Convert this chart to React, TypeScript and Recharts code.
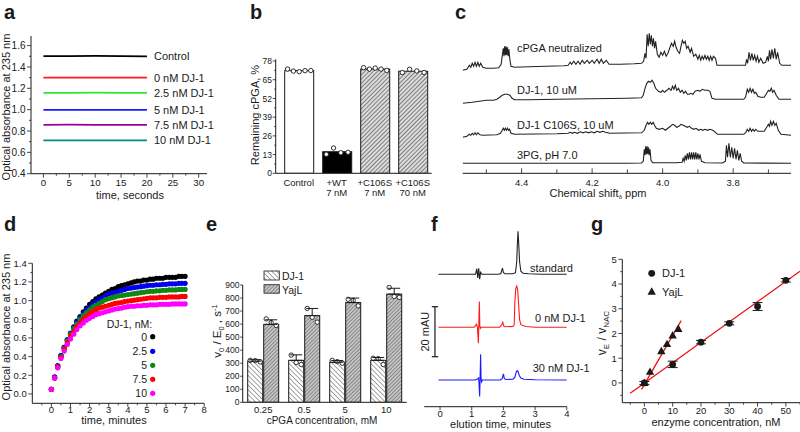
import React from "react";
import {
  Bar,
  BarChart,
  ComposedChart,
  ErrorBar,
  LabelList,
  Line,
  ReferenceLine,
  Scatter,
  XAxis,
  YAxis,
} from "recharts";

const FONT = "Arial, 'Liberation Sans', Helvetica, sans-serif";
const NARROW = "'Liberation Sans Narrow', 'Arial Narrow', Arial, 'Liberation Sans', sans-serif";
const INK = "#1a1a1a";

// a: absorbance at 235 nm over 20 s
const aTime = [0, 5, 10, 15, 20];
const aNames = ["Control", "0 nM DJ-1", "2.5 nM DJ-1", "5 nM DJ-1", "7.5 nM DJ-1", "10 nM DJ-1"];
const aControl = [1.502, 1.501, 1.503, 1.502, 1.5];
const aDj0 = [1.3, 1.3, 1.3, 1.3, 1.3];
const aDj25 = [1.158, 1.158, 1.16, 1.158, 1.158];
const aDj5 = [0.998, 0.998, 0.998, 0.998, 0.998];
const aDj75 = [0.857, 0.86, 0.858, 0.857, 0.857];
const aDj10 = [0.713, 0.713, 0.713, 0.713, 0.713];
const aColors = ["#000000", "#ff1a1a", "#2ee62e", "#1a1aff", "#990099", "#008b8b"];

// b: remaining cPGA
const bCats = ["Control", "+WT\n7 nM", "+C106S\n7 nM", "+C106S\n70 nM"];
const bMeans = [71.3, 15.0, 72.4, 70.9];
const bReps = [
  [72.4, 71.0, 70.6, 71.3, 71.4],
  [13.2, 17.6, 14.3, 14.6],
  [73.4, 72.4, 73.1, 72.4, 71.5],
  [70.0, 72.3, 71.1, 70.0],
];
const bFills = ["#ffffff", "#000000", "url(#hatchB)", "url(#hatchB)"];

// c: 1H NMR spectra, [ppm, intensity]
const cLabels = ["cPGA neutralized", "DJ-1, 10 uM", "DJ-1 C106S, 10 uM", "3PG, pH 7.0"];
const cOffsets = [105, 73, 38, 10];
const cNeutralized = [
  [4.567, -2], [4.555, -1], [4.548, 3], [4.544, 1], [4.54, 5], [4.536, 2], [4.532, 6], [4.528, 2], [4.524, 6],
  [4.52, 2], [4.516, 5], [4.51, 1], [4.5, 0], [4.48, 0], [4.465, 0.5], [4.458, 4], [4.455, 12], [4.452, 20],
  [4.45, 12], [4.448, 22], [4.446, 13], [4.444, 22], [4.442, 13], [4.44, 21], [4.438, 12], [4.436, 19],
  [4.433, 8], [4.43, 2], [4.42, 1], [4.38, 1.5], [4.33, 2], [4.28, 2.5], [4.268, 3], [4.262, 6], [4.258, 4],
  [4.252, 7], [4.246, 4], [4.24, 7], [4.234, 4], [4.228, 8], [4.222, 5], [4.214, 8], [4.208, 5], [4.2, 8],
  [4.194, 5], [4.186, 9], [4.18, 5], [4.174, 9], [4.168, 5], [4.16, 8], [4.152, 4], [4.12, 4], [4.08, 4.5],
  [4.06, 5], [4.054, 7], [4.05, 15], [4.047, 10], [4.044, 34], [4.041, 22], [4.038, 35], [4.035, 24],
  [4.032, 33], [4.029, 22], [4.026, 30], [4.023, 20], [4.02, 27], [4.015, 14], [4.01, 11], [4.005, 16],
  [4.0, 13], [3.995, 17], [3.99, 12], [3.985, 15], [3.98, 20], [3.975, 25], [3.97, 22], [3.966, 27],
  [3.962, 21], [3.957, 17], [3.952, 15], [3.948, 22], [3.944, 28], [3.94, 25], [3.936, 27], [3.932, 20],
  [3.928, 22], [3.922, 16], [3.918, 20], [3.912, 12], [3.906, 14], [3.9, 9], [3.896, 13], [3.892, 8],
  [3.888, 12], [3.884, 9], [3.88, 13], [3.876, 9], [3.872, 12], [3.868, 8], [3.864, 12], [3.86, 8],
  [3.856, 12], [3.85, 10], [3.846, 3], [3.84, 3], [3.8, 3], [3.765, 3], [3.762, 9], [3.759, 5], [3.755, 16],
  [3.751, 8], [3.747, 15], [3.743, 8], [3.739, 13], [3.735, 7], [3.731, 12], [3.727, 6], [3.722, 10],
  [3.715, 5], [3.708, 6], [3.703, 12], [3.7, 7], [3.697, 18], [3.694, 9], [3.69, 19], [3.686, 10],
  [3.682, 20], [3.678, 9], [3.674, 16], [3.668, 5], [3.662, 3], [3.636, 3],
];
const cDj1 = [
  [4.567, -3], [4.54, -2], [4.52, -1], [4.5, 0], [4.48, 0], [4.47, 1], [4.462, 3], [4.455, 5], [4.448, 6],
  [4.44, 6], [4.433, 5], [4.427, 2], [4.42, 0.5], [4.38, 0.5], [4.3, 1], [4.2, 1.5], [4.1, 2], [4.06, 2.5],
  [4.055, 5], [4.05, 12], [4.045, 17], [4.04, 19], [4.035, 18], [4.03, 20], [4.025, 17], [4.02, 12],
  [4.012, 9], [4.005, 8], [4.0, 10], [3.995, 8], [3.988, 10], [3.982, 12], [3.976, 10], [3.972, 14],
  [3.968, 11], [3.964, 15], [3.96, 10], [3.955, 12], [3.95, 8], [3.945, 10], [3.94, 7], [3.935, 9],
  [3.93, 6], [3.925, 6], [3.92, 7], [3.914, 6], [3.908, 9], [3.9, 10], [3.894, 9], [3.888, 11], [3.88, 10],
  [3.872, 10], [3.866, 9], [3.86, 2], [3.85, 1], [3.8, 1], [3.77, 1], [3.765, 3], [3.76, 11], [3.756, 8],
  [3.752, 12], [3.748, 8], [3.744, 11], [3.74, 7], [3.736, 8], [3.73, 4], [3.722, 3], [3.712, 3],
  [3.705, 7], [3.7, 10], [3.696, 9], [3.692, 12], [3.688, 8], [3.684, 10], [3.678, 5], [3.67, 1], [3.636, 1],
];
const cC106S = [
  [4.567, -2], [4.555, -1], [4.548, 1], [4.544, 0], [4.54, 2], [4.536, 0.5], [4.532, 2.5], [4.528, 0.5],
  [4.524, 2.5], [4.518, 0.5], [4.51, 0], [4.47, 0.5], [4.46, 2], [4.455, 5], [4.452, 7], [4.449, 5],
  [4.446, 7], [4.443, 5], [4.44, 7], [4.437, 5], [4.434, 6], [4.43, 2], [4.42, 1], [4.3, 1.5], [4.268, 2],
  [4.262, 3], [4.256, 2], [4.25, 3], [4.242, 2], [4.234, 3.5], [4.226, 2.5], [4.218, 3.5], [4.21, 2.5],
  [4.202, 3.5], [4.194, 2.5], [4.186, 4], [4.178, 3], [4.17, 4], [4.162, 3], [4.15, 2], [4.06, 2.5],
  [4.052, 5], [4.047, 10], [4.043, 13], [4.039, 11], [4.035, 13], [4.031, 11], [4.027, 13], [4.023, 10],
  [4.018, 7], [4.01, 6], [4.0, 7], [3.992, 5], [3.985, 7], [3.978, 9], [3.972, 11], [3.966, 10], [3.96, 8],
  [3.954, 9], [3.948, 11], [3.942, 10], [3.936, 9], [3.93, 8], [3.924, 9], [3.918, 7], [3.912, 6],
  [3.905, 7], [3.898, 5], [3.892, 6], [3.886, 5], [3.88, 6], [3.872, 5], [3.866, 6], [3.858, 5], [3.85, 3],
  [3.845, 1], [3.8, 1], [3.77, 1], [3.764, 3], [3.76, 6], [3.756, 4], [3.752, 7], [3.748, 4], [3.744, 6],
  [3.74, 4], [3.736, 6], [3.73, 4], [3.722, 4], [3.712, 4], [3.705, 8], [3.7, 11], [3.697, 9], [3.694, 14],
  [3.69, 10], [3.686, 14], [3.682, 10], [3.678, 12], [3.672, 5], [3.664, 1], [3.636, 0],
];
const c3PG = [
  [4.567, 0], [4.1, 0], [4.06, 0.3], [4.055, 2], [4.052, 14], [4.05, 8], [4.048, 17], [4.046, 9], [4.044, 17],
  [4.042, 9], [4.04, 16], [4.038, 8], [4.036, 14], [4.033, 3], [4.028, 0.5], [3.96, 0.5], [3.945, 1],
  [3.942, 5], [3.939, 2], [3.936, 8], [3.933, 3], [3.93, 10], [3.927, 4], [3.924, 11], [3.921, 4],
  [3.918, 11], [3.915, 4], [3.912, 11], [3.909, 4], [3.906, 11], [3.903, 4], [3.9, 10], [3.897, 4],
  [3.894, 9], [3.89, 2], [3.88, 0.5], [3.83, 0.3], [3.822, 2], [3.819, 18], [3.816, 6], [3.812, 20],
  [3.808, 6], [3.804, 16], [3.8, 5], [3.796, 15], [3.792, 4], [3.788, 13], [3.784, 3], [3.78, 10],
  [3.776, 2], [3.77, 0.3], [3.636, 0],
];
const cTraces = [cNeutralized, cDj1, cC106S, c3PG];

// d: progress curves
const dTime = [
  0, 0.17, 0.33, 0.5, 0.67, 0.83, 1, 1.17, 1.33, 1.5, 1.67, 1.83, 2, 2.17, 2.33, 2.5, 2.67, 2.83, 3, 3.17,
  3.33, 3.5, 3.67, 3.83, 4, 4.17, 4.33, 4.5, 4.67, 4.83, 5, 5.17, 5.33, 5.5, 5.67, 5.83, 6, 6.17, 6.33,
  6.5, 6.67, 6.83, 7,
];
const dNames = ["0", "2.5", "5", "7.5", "10"];
const dDj0 = [
  0.05, 0.18, 0.3, 0.41, 0.5, 0.58, 0.65, 0.72, 0.78, 0.83, 0.88, 0.92, 0.96, 0.99, 1.02, 1.04, 1.06, 1.08,
  1.1, 1.12, 1.13, 1.15, 1.16, 1.17, 1.18, 1.19, 1.2, 1.21, 1.21, 1.22, 1.22, 1.23, 1.23, 1.24, 1.24, 1.24,
  1.25, 1.25, 1.25, 1.25, 1.26, 1.26, 1.26,
];
const dDj25 = [
  0.05, 0.18, 0.3, 0.41, 0.5, 0.58, 0.65, 0.71, 0.77, 0.82, 0.86, 0.9, 0.93, 0.96, 0.99, 1.01, 1.03, 1.05,
  1.07, 1.08, 1.09, 1.1, 1.11, 1.12, 1.13, 1.135, 1.14, 1.145, 1.15, 1.155, 1.16, 1.165, 1.165, 1.17, 1.17,
  1.175, 1.175, 1.18, 1.18, 1.18, 1.185, 1.185, 1.185,
];
const dDj5 = [
  0.05, 0.17, 0.29, 0.4, 0.49, 0.57, 0.64, 0.7, 0.75, 0.8, 0.84, 0.87, 0.9, 0.93, 0.95, 0.97, 0.99, 1.01,
  1.02, 1.03, 1.04, 1.05, 1.055, 1.06, 1.065, 1.07, 1.075, 1.08, 1.085, 1.09, 1.095, 1.1, 1.1, 1.105, 1.105,
  1.11, 1.11, 1.115, 1.115, 1.115, 1.12, 1.12, 1.12,
];
const dDj75 = [
  0.05, 0.17, 0.29, 0.39, 0.48, 0.55, 0.62, 0.67, 0.72, 0.76, 0.8, 0.83, 0.86, 0.88, 0.9, 0.92, 0.93, 0.94,
  0.95, 0.96, 0.97, 0.975, 0.98, 0.99, 0.995, 1.0, 1.005, 1.01, 1.015, 1.02, 1.025, 1.03, 1.03, 1.03, 1.035,
  1.035, 1.035, 1.04, 1.04, 1.04, 1.04, 1.045, 1.045,
];
const dDj10 = [
  0.05, 0.17, 0.28, 0.38, 0.46, 0.53, 0.59, 0.64, 0.69, 0.73, 0.76, 0.79, 0.81, 0.83, 0.85, 0.86, 0.87, 0.88,
  0.89, 0.9, 0.91, 0.915, 0.92, 0.93, 0.935, 0.94, 0.94, 0.945, 0.945, 0.95, 0.95, 0.955, 0.955, 0.955, 0.96,
  0.96, 0.96, 0.96, 0.965, 0.965, 0.965, 0.965, 0.965,
];
const dColors = ["#000000", "#0000ee", "#118811", "#ff0000", "#ff00ff"];

// e: v0/E0 vs cPGA concentration
const eConc = ["0.25", "0.5", "5", "10"];
const eDj1 = [315, 322, 307, 322];
const eDj1Err = [12, 42, 14, 22];
const eDj1Reps = [[322, 320, 310], [362, 305, 290], [322, 312, 300], [338, 335, 290]];
const eYajL = [598, 665, 765, 830];
const eYajLErr = [35, 55, 35, 45];
const eYajLReps = [[640, 612, 590], [720, 652, 615], [790, 782, 740], [882, 812, 805]];

// f: HPLC traces, mAU
const fLabels = ["standard", "0 nM DJ-1", "30 nM DJ-1"];
const fColors = ["#222222", "#ff1a1a", "#1a1aff"];
const fOffsets = [53, 31.8, 10.7];
const fStandard = [
  [-0.05, 0], [1.0, 0], [1.12, 0], [1.16, 2.2], [1.19, -1.5], [1.22, 2.4], [1.25, -2], [1.28, 0.8], [1.32, 0],
  [1.85, 0], [1.92, 0.3], [1.97, 2.4], [2.0, 0.6], [2.05, 0.2], [2.3, 0.2], [2.38, 0.6], [2.42, 5],
  [2.44, 12], [2.46, 17.2], [2.48, 13], [2.51, 5], [2.55, 1.2], [2.62, 0.4], [2.8, 0.2], [3.2, 0], [4.0, 0],
];
const fDj0 = [
  [-0.05, 0], [1.08, 0], [1.15, 1.2], [1.18, 0], [1.21, -6.4], [1.225, 2], [1.24, 10.3], [1.255, 0.5],
  [1.27, -0.5], [1.3, 0], [1.88, 0], [1.94, 0.8], [1.98, 2], [2.01, 0.5], [2.05, 0.2], [2.3, 0.3],
  [2.34, 1], [2.36, 10], [2.39, 15.5], [2.42, 16.4], [2.45, 15], [2.48, 9], [2.51, 3], [2.55, 1],
  [2.7, 0.3], [3.0, 0], [4.0, 0],
];
const fDj30 = [
  [-0.05, 0], [1.12, 0], [1.18, 0.4], [1.22, 0.8], [1.25, -6.6], [1.265, 1], [1.28, 10.3], [1.295, 0.5],
  [1.31, -0.8], [1.34, 0], [1.9, 0], [1.96, 0.5], [2.0, 2.4], [2.03, 0.5], [2.08, 0.2], [2.3, 0.3],
  [2.36, 1], [2.4, 3], [2.43, 3.7], [2.46, 3.4], [2.5, 1.8], [2.55, 0.8], [2.65, 0.3], [3.0, 0.1], [4.0, 0],
];
const fTraces = [fStandard, fDj0, fDj30];

// g: relative rate vs enzyme concentration
const gDjConc = [0, 10, 20, 30, 40, 50];
const gDjRatio = [0.0, 0.75, 1.65, 2.41, 3.09, 4.15];
const gDjErr = [0.06, 0.13, 0.07, 0.06, 0.16, 0.07];
const gYajConc = [0, 2, 6, 8, 10, 12];
const gYajRatio = [0.0, 0.45, 1.28, 1.57, 1.92, 2.18];
const gDjFit = [[-5, -0.42], [55, 4.52]];
const gYajFit = [[-1, -0.26], [13, 2.52]];

// ---------- helpers
const range = (a: number, b: number, s: number) => {
  const out: number[] = [];
  for (let i = 0; a + i * s <= b + 1e-9; i++) out.push(+(a + i * s).toFixed(6));
  return out;
};
const isOn = (v: number, step: number) => Math.abs(v / step - Math.round(v / step)) < 1e-6;

function frame(left: number, top: number, width: number, height: number, plot: number[]) {
  const [x0, y0, x1, y1] = plot;
  return {
    style: { position: "absolute" as const, left, top },
    width,
    height,
    margin: { top: y0 - top, right: left + width - x1, bottom: 0, left: 0 },
    yw: x0 - left,
    xh: top + height - y1,
  };
}

function yTick(step: number, fmt: (v: number) => string, size = 10, len = 4, minor = 2, gap = 1.5, family = FONT) {
  return (p: any) => {
    const v = p.payload.value;
    const major = isOn(v, step);
    return (
      <g>
        <line x1={p.x - (major ? len : minor)} x2={p.x} y1={p.y} y2={p.y} stroke={INK} strokeWidth={0.8} />
        {major ? (
          <text x={p.x - len - gap} y={p.y + size * 0.36} textAnchor="end" fontSize={size} fontFamily={family} fill={INK}>
            {fmt(v)}
          </text>
        ) : null}
      </g>
    );
  };
}

function xTick(step: number, fmt: (v: number) => string, off: number, size = 10, len = 4, minor = 2, up = false) {
  return (p: any) => {
    const v = p.payload.value;
    const major = isOn(v, step);
    const l = major ? len : minor;
    return (
      <g>
        <line x1={p.x} x2={p.x} y1={p.y} y2={up ? p.y - l : p.y + l} stroke={INK} strokeWidth={0.8} />
        {major ? (
          <text x={p.x} y={p.y + off} textAnchor="middle" fontSize={size} fontFamily={FONT} fill={INK}>
            {fmt(v)}
          </text>
        ) : null}
      </g>
    );
  };
}

function catTick(off: number, size = 9.5, lead = 10) {
  return (p: any) => {
    const lines = String(p.payload.value).split("\n");
    return (
      <text x={p.x} y={p.y + off} textAnchor="middle" fontSize={size} fontFamily={FONT} fill={INK}>
        {lines.map((l, i) => (
          <tspan key={i} x={p.x} dy={i ? lead : 0}>
            {l}
          </tspan>
        ))}
      </text>
    );
  };
}

function repBar(fills: string[] | string, valueKey: string, repsKey: string) {
  return (p: any) => {
    const { x, y, width, height, payload, index } = p;
    const fill = Array.isArray(fills) ? fills[index] : fills;
    const per = height / payload[valueKey];
    const base = y + height;
    const reps: number[] = payload[repsKey];
    return (
      <g>
        <rect x={x} y={y} width={width} height={height} fill={fill} stroke={INK} strokeWidth={1} />
        {reps.map((r, i) => (
          <circle key={i} cx={x + (width * (i + 0.5)) / reps.length} cy={base - r * per} r={2.2} fill="#fff" stroke={INK} strokeWidth={0.9} />
        ))}
      </g>
    );
  };
}

const pairs = (arr: number[][], off = 0) => arr.map(([x, y]) => ({ x, y: y + off }));

// ---------- panels
const aF = frame(0, 28, 215, 182, [31, 36, 207, 173.7]);
function PanelA() {
  const series = [aControl, aDj0, aDj25, aDj5, aDj75, aDj10];
  const rows = aTime.map((t, i) => {
    const r: any = { t };
    series.forEach((s, k) => (r[`s${k}`] = s[i]));
    return r;
  });
  return (
    <div style={aF.style}>
      <ComposedChart width={aF.width} height={aF.height} margin={aF.margin} data={rows}>
        <XAxis dataKey="t" type="number" domain={[-2.4, 31.6]} allowDataOverflow ticks={range(0, 30, 2.5)} interval={0}
          tickSize={0} tickMargin={0} tickLine={false} height={aF.xh} stroke={INK} tick={xTick(5, String, 12.5, 9.8)} />
        <YAxis type="number" domain={[0.4, 1.69]} allowDataOverflow ticks={range(0.4, 1.6, 0.1)} interval={0}
          tickSize={0} tickMargin={0} tickLine={false} width={aF.yw} stroke={INK} tick={yTick(0.2, (v) => v.toFixed(1), 10)} />
        {series.map((_, k) => (
          <Line key={k} dataKey={`s${k}`} stroke={aColors[k]} strokeWidth={1.8} dot={false} isAnimationActive={false}>
            <LabelList dataKey={`s${k}`} content={(p: any) =>
              p.index === aTime.length - 1 ? (
                <text x={p.x + 7} y={p.y + 4} fontSize={11} fontFamily={FONT} fill={INK}>{aNames[k]}</text>
              ) : null} />
          </Line>
        ))}
      </ComposedChart>
    </div>
  );
}

const bF = frame(230, 40, 206, 165, [275.7, 59.3, 431.7, 173.3]);
function PanelB() {
  const rows = bCats.map((cat, i) => ({ cat, mean: bMeans[i], reps: bReps[i] }));
  return (
    <div style={bF.style}>
      <BarChart width={bF.width} height={bF.height} margin={bF.margin} data={rows} barSize={29}>
        <XAxis dataKey="cat" interval={0} tickSize={0} tickMargin={0} tickLine={false} height={bF.xh}
          padding={{ left: 4, right: 0 }} stroke={INK} tick={catTick(13, 9.5, 10)} />
        <YAxis type="number" domain={[0, 79.2]} allowDataOverflow ticks={range(0, 78, 6.5)} interval={0}
          tickSize={0} tickMargin={0} tickLine={false} width={bF.yw} stroke={INK}
          tick={yTick(13, String, 8.5, 3, 1.5, 0.8, NARROW)} />
        <Bar dataKey="mean" isAnimationActive={false} shape={repBar(bFills, "mean", "reps")} />
      </BarChart>
    </div>
  );
}

const cF = frame(455, 15, 345, 190, [462.7, 23.3, 791, 173.3]);
function PanelC() {
  return (
    <div style={cF.style}>
      <ComposedChart width={cF.width} height={cF.height} margin={{ ...cF.margin, left: cF.yw }}>
        <XAxis dataKey="x" type="number" reversed domain={[3.636, 4.567]} allowDataOverflow ticks={range(3.7, 4.5, 0.1)}
          interval={0} tickSize={0} tickMargin={0} tickLine={false} height={cF.xh} stroke={INK}
          tick={xTick(0.2, (v) => v.toFixed(1), 12.5, 9.5, 5, 4, true)} />
        <YAxis dataKey="y" type="number" hide domain={[0, 150]} allowDataOverflow />
        {cTraces.map((tr, k) => (
          <Line key={k} data={pairs(tr, cOffsets[k])} dataKey="y" stroke="#222" strokeWidth={1.1} dot={false}
            isAnimationActive={false} />
        ))}
      </ComposedChart>
    </div>
  );
}

const dF = frame(0, 240, 215, 190, [32.3, 263.3, 204.2, 403.3]);
function PanelD() {
  const series = [dDj0, dDj25, dDj5, dDj75, dDj10];
  return (
    <div style={dF.style}>
      <ComposedChart width={dF.width} height={dF.height} margin={dF.margin}>
        <XAxis dataKey="x" type="number" domain={[-1, 8]} allowDataOverflow ticks={range(-0.5, 8, 0.5)} interval={0}
          tickSize={0} tickMargin={0} tickLine={false} height={dF.xh} stroke={INK} tick={xTick(1, String, 9.8, 9.5, 3.5, 2)} />
        <YAxis dataKey="y" type="number" domain={[-0.1, 1.4]} allowDataOverflow ticks={range(0, 1.4, 0.1)} interval={0}
          tickSize={0} tickMargin={0} tickLine={false} width={dF.yw} stroke={INK} tick={yTick(0.2, (v) => v.toFixed(1), 9.5)} />
        {series.map((s, k) => (
          <Scatter key={k} data={dTime.map((x, i) => ({ x, y: s[i] }))} isAnimationActive={false}
            shape={(p: any) => <circle cx={p.cx} cy={p.cy} r={2.6} fill={dColors[k]} />} />
        ))}
      </ComposedChart>
    </div>
  );
}

const eF = frame(195, 270, 220, 160, [242.7, 285, 406.7, 402.3]);
function PanelE() {
  const rows = eConc.map((conc, i) => ({
    conc,
    dj: eDj1[i],
    djErr: [0, eDj1Err[i]],
    djReps: eDj1Reps[i],
    yaj: eYajL[i],
    yajErr: [0, eYajLErr[i]],
    yajReps: eYajLReps[i],
  }));
  return (
    <div style={eF.style}>
      <BarChart width={eF.width} height={eF.height} margin={eF.margin} data={rows} barSize={15} barGap={1}>
        <XAxis dataKey="conc" interval={0} tickSize={0} tickMargin={0} tickLine={false} height={eF.xh} stroke={INK}
          tick={catTick(10.5, 9.5)} />
        <YAxis type="number" domain={[0, 900]} allowDataOverflow ticks={range(0, 900, 100)} interval={0}
          tickSize={0} tickMargin={0} tickLine={false} width={eF.yw} stroke={INK}
          tick={yTick(100, String, 8.5, 2.5, 1.5, 0.8, NARROW)} />
        <Bar dataKey="dj" isAnimationActive={false} shape={repBar("url(#hatchDj)", "dj", "djReps")}>
          <ErrorBar dataKey="djErr" width={6} stroke={INK} strokeWidth={1} direction="y" isAnimationActive={false} />
        </Bar>
        <Bar dataKey="yaj" isAnimationActive={false} shape={repBar("url(#hatchYaj)", "yaj", "yajReps")}>
          <ErrorBar dataKey="yajErr" width={6} stroke={INK} strokeWidth={1} direction="y" isAnimationActive={false} />
        </Bar>
      </BarChart>
    </div>
  );
}

const fF = frame(415, 215, 160, 215, [424.2, 219.2, 566.8, 406.7]);
function PanelF() {
  return (
    <div style={fF.style}>
      <ComposedChart width={fF.width} height={fF.height} margin={{ ...fF.margin, left: fF.yw }}>
        <XAxis dataKey="x" type="number" domain={[-0.5, 4]} allowDataOverflow ticks={[0, 1, 2, 3, 4]} interval={0}
          tickSize={0} tickMargin={0} tickLine={false} height={fF.xh} stroke={INK} tick={xTick(1, String, 9.8, 9.5, 3.5)} />
        <YAxis dataKey="y" type="number" hide domain={[0, 75]} allowDataOverflow />
        {fTraces.map((tr, k) => (
          <Line key={k} data={pairs(tr, fOffsets[k])} dataKey="y" stroke={fColors[k]} strokeWidth={1.1} dot={false}
            isAnimationActive={false} />
        ))}
        <ReferenceLine segment={[{ x: -0.16, y: 20 }, { x: -0.16, y: 40 }]} stroke={INK} strokeWidth={1.2} />
        <ReferenceLine segment={[{ x: -0.26, y: 20 }, { x: -0.06, y: 20 }]} stroke={INK} strokeWidth={1.2} />
        <ReferenceLine segment={[{ x: -0.26, y: 40 }, { x: -0.06, y: 40 }]} stroke={INK} strokeWidth={1.2} />
      </ComposedChart>
    </div>
  );
}

const gF = frame(580, 250, 220, 180, [622.3, 259.3, 800, 402.7]);
function PanelG() {
  const dj = gDjConc.map((x, i) => ({ x, y: gDjRatio[i], err: gDjErr[i] }));
  const yaj = gYajConc.map((x, i) => ({ x, y: gYajRatio[i] }));
  return (
    <div style={gF.style}>
      <ComposedChart width={gF.width} height={gF.height} margin={gF.margin}>
        <XAxis dataKey="x" type="number" domain={[-7.8, 55]} allowDataOverflow ticks={range(-5, 55, 5)} interval={0}
          tickSize={0} tickMargin={0} tickLine={false} height={gF.xh} stroke={INK} tick={xTick(10, String, 11, 9.5)} />
        <YAxis dataKey="y" type="number" domain={[-0.8, 5]} allowDataOverflow ticks={range(-0.5, 5, 0.5)} interval={0}
          tickSize={0} tickMargin={0} tickLine={false} width={gF.yw} stroke={INK} tick={yTick(1, String, 9.5, 4, 2, 1.5)} />
        <Line data={pairs(gDjFit)} dataKey="y" stroke="#ee1111" strokeWidth={1.3} dot={false} isAnimationActive={false} />
        <Line data={pairs(gYajFit)} dataKey="y" stroke="#ee1111" strokeWidth={1.3} dot={false} isAnimationActive={false} />
        <Scatter data={dj} isAnimationActive={false}
          shape={(p: any) => <circle cx={p.cx} cy={p.cy} r={3.4} fill={INK} />}>
          <ErrorBar dataKey="err" direction="y" width={5} stroke={INK} strokeWidth={1} isAnimationActive={false} />
        </Scatter>
        <Scatter data={yaj} isAnimationActive={false}
          shape={(p: any) => (
            <polygon points={`${p.cx},${p.cy - 4.4} ${p.cx - 4.2},${p.cy + 3} ${p.cx + 4.2},${p.cy + 3}`} fill={INK} />
          )} />
      </ComposedChart>
    </div>
  );
}

function Overlay() {
  const txt = { fontFamily: FONT, fill: INK };
  const letters: [string, number, number][] = [
    ["a", 4, 19], ["b", 250, 19], ["c", 455, 19], ["d", 4, 231], ["e", 206, 231], ["f", 431, 231], ["g", 591, 231],
  ];
  const cBase = [52, 93.5, 129, 159];
  const fPos: [number, number][] = [[530, 272], [535, 321.5], [532.7, 372]];
  const dRows = [336.7, 351.3, 365.3, 379.3, 393.3];
  return (
    <svg width={800} height={432} style={{ position: "absolute", left: 0, top: 0, pointerEvents: "none", fontFamily: FONT }}>
      {letters.map(([l, x, y]) => (
        <text key={l} x={x} y={y} fontSize={20} fontWeight="bold" {...txt}>{l}</text>
      ))}
      {/* a */}
      <text x={9.5} y={107} transform="rotate(-90 9.5 107)" textAnchor="middle" fontSize={11} {...txt}>Optical absorbance at 235 nm</text>
      <text x={130} y={198.5} textAnchor="middle" fontSize={11} {...txt}>time, seconds</text>
      {/* b */}
      <text x={258.5} y={115} transform="rotate(-90 258.5 115)" textAnchor="middle" fontSize={11} {...txt}>Remaining cPGA, %</text>
      {/* c */}
      {cLabels.map((l, i) => (
        <text key={l} x={517} y={cBase[i]} fontSize={11} {...txt}>{l}</text>
      ))}
      <text x={598} y={196.5} textAnchor="middle" fontSize={11} {...txt}>
        Chemical shift<tspan fontSize={6} dy={2}>δ</tspan><tspan dy={-2}> ppm</tspan>
      </text>
      {/* d */}
      <text x={9.5} y={327} transform="rotate(-90 9.5 327)" textAnchor="middle" fontSize={11} {...txt}>Optical absorbance at 235 nm</text>
      <text x={114} y={424} textAnchor="middle" fontSize={11} {...txt}>time, minutes</text>
      <text x={106.7} y={328.3} fontSize={10.5} {...txt}>DJ-1, nM:</text>
      {dNames.map((n, i) => (
        <g key={n}>
          <text x={147} y={dRows[i] + 4} textAnchor="end" fontSize={10.5} {...txt}>{n}</text>
          <circle cx={152.7} cy={dRows[i]} r={2.6} fill={dColors[i]} />
        </g>
      ))}
      {/* e */}
      <text x={221} y={331} transform="rotate(-90 221 331)" textAnchor="middle" fontSize={11.5} {...txt}>
        v<tspan fontSize={7.5} dy={3}>0</tspan><tspan dy={-3}> / E</tspan><tspan fontSize={7.5} dy={3}>0</tspan>
        <tspan dy={-3}> , s</tspan><tspan fontSize={7.5} dy={-4}>-1</tspan>
      </text>
      <text x={322} y={424} textAnchor="middle" fontSize={10} {...txt}>cPGA concentration, mM</text>
      <rect x={264} y={271} width={15.3} height={9} fill="url(#hatchDj)" stroke={INK} strokeWidth={0.8} />
      <text x={282} y={280} fontSize={10.5} {...txt}>DJ-1</text>
      <rect x={264} y={284.7} width={15.3} height={8.5} fill="url(#hatchYaj)" stroke={INK} strokeWidth={0.8} />
      <text x={282} y={293.5} fontSize={10.5} {...txt}>YajL</text>
      {/* f */}
      {fLabels.map((l, i) => (
        <text key={l} x={fPos[i][0]} y={fPos[i][1]} fontSize={11} {...txt}>{l}</text>
      ))}
      <text x={429} y={331.7} transform="rotate(-90 429 331.7)" textAnchor="middle" fontSize={11} {...txt}>20 mAU</text>
      <text x={500.5} y={428} textAnchor="middle" fontSize={11} {...txt}>elution time, minutes</text>
      {/* g */}
      <text x={606} y={333} transform="rotate(-90 606 333)" textAnchor="middle" fontSize={12} {...txt}>
        v<tspan fontSize={8} dy={3}>E</tspan><tspan dy={-3}> / v</tspan><tspan fontSize={8} dy={3}>NAC</tspan>
      </text>
      <text x={716} y={426} textAnchor="middle" fontSize={11} {...txt}>enzyme concentration, nM</text>
      <circle cx={651.7} cy={273.3} r={3.4} fill={INK} />
      <text x={662} y={277.3} fontSize={11} {...txt}>DJ-1</text>
      <polygon points="651.7,287.3 647.5,294.7 655.9,294.7" fill={INK} />
      <text x={662} y={295.5} fontSize={11} {...txt}>YajL</text>
    </svg>
  );
}

export default function App() {
  return (
    <div style={{ position: "absolute", left: 0, top: 0, width: 800, height: 432, background: "#fff", overflow: "hidden", fontFamily: FONT }}>
      <svg width={0} height={0} style={{ position: "absolute" }}>
        <defs>
          <pattern id="hatchB" width={3} height={3} patternUnits="userSpaceOnUse" patternTransform="rotate(45)">
            <rect width={3} height={3} fill="#dcdcdc" />
            <line x1={0} y1={0} x2={0} y2={3} stroke="#222" strokeWidth={1} />
          </pattern>
          <pattern id="hatchDj" width={3.4} height={3.4} patternUnits="userSpaceOnUse" patternTransform="rotate(-45)">
            <rect width={3.4} height={3.4} fill="#ffffff" />
            <line x1={0} y1={0} x2={0} y2={3.4} stroke="#333" strokeWidth={0.9} />
          </pattern>
          <pattern id="hatchYaj" width={2.6} height={2.6} patternUnits="userSpaceOnUse" patternTransform="rotate(45)">
            <rect width={2.6} height={2.6} fill="#c4c4c4" />
            <line x1={0} y1={0} x2={0} y2={2.6} stroke="#333" strokeWidth={0.8} />
          </pattern>
        </defs>
      </svg>
      <PanelA />
      <PanelB />
      <PanelC />
      <PanelD />
      <PanelE />
      <PanelF />
      <PanelG />
      <Overlay />
    </div>
  );
}
